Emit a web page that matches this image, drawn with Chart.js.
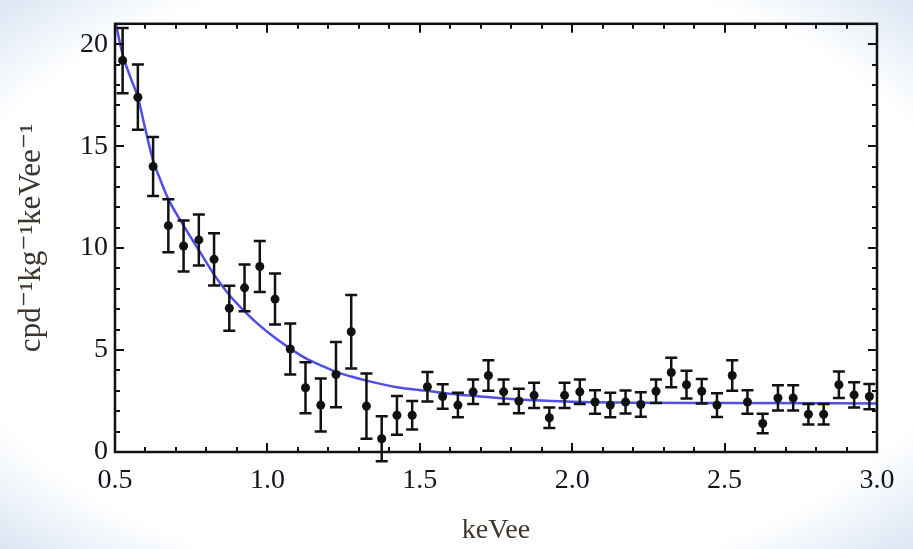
<!DOCTYPE html>
<html>
<head>
<meta charset="utf-8">
<script src="https://cdn.jsdelivr.net/npm/chart.js@4.4.0/dist/chart.umd.min.js"></script>
<style>
html, body { margin: 0; padding: 0; }
body {
  width: 913px; height: 549px; overflow: hidden;
  background: radial-gradient(ellipse at center, #ffffff 80%, #dae6f3 100%);
}
#wrap { position: absolute; left: 0; top: 0; width: 913px; height: 549px; }
</style>
</head>
<body>
<div id="wrap"><canvas id="myChart" width="913" height="549"></canvas></div>
<script>
//bin centres (keVee)
let energy = [0.525, 0.575, 0.625, 0.675, 0.725, 0.775, 0.825, 0.875, 0.925, 0.975,
  1.025, 1.075, 1.125, 1.175, 1.225, 1.275, 1.325, 1.375, 1.425, 1.475,
  1.525, 1.575, 1.625, 1.675, 1.725, 1.775, 1.825, 1.875, 1.925, 1.975,
  2.025, 2.075, 2.125, 2.175, 2.225, 2.275, 2.325, 2.375, 2.425, 2.475,
  2.525, 2.575, 2.625, 2.675, 2.725, 2.775, 2.825, 2.875, 2.925, 2.975];
//measured rate, cpd/kg/keVee
let rate = [19.2, 17.4, 14.0, 11.1, 10.1, 10.4, 9.45, 7.05, 8.05, 9.1,
  7.5, 5.05, 3.15, 2.3, 3.8, 5.9, 2.25, 0.65, 1.8, 1.8,
  3.2, 2.72, 2.3, 2.95, 3.75, 2.95, 2.5, 2.78, 1.68, 2.78,
  2.95, 2.45, 2.3, 2.45, 2.33, 2.98, 3.9, 3.3, 2.98, 2.3,
  3.75, 2.45, 1.4, 2.65, 2.65, 1.85, 1.85, 3.3, 2.8, 2.72];
//1 sigma errors
let rateErr = [1.6, 1.6, 1.45, 1.3, 1.25, 1.25, 1.28, 1.1, 1.15, 1.25,
  1.25, 1.25, 1.25, 1.3, 1.6, 1.8, 1.6, 1.1, 0.95, 0.7,
  0.72, 0.6, 0.6, 0.6, 0.75, 0.6, 0.6, 0.62, 0.5, 0.62,
  0.6, 0.58, 0.6, 0.56, 0.6, 0.58, 0.72, 0.68, 0.6, 0.58,
  0.75, 0.58, 0.48, 0.62, 0.62, 0.5, 0.5, 0.65, 0.62, 0.62];
//fit curve
let fitE = [0.5, 0.525, 0.55, 0.575, 0.6, 0.625, 0.65, 0.675, 0.725, 0.775, 0.825, 0.875, 0.925,
  0.975, 1.025, 1.075, 1.125, 1.175, 1.225, 1.275, 1.325, 1.425, 1.525, 1.6, 1.7, 1.8, 1.9,
  2.0, 2.2, 2.5, 3.0];
let fitRate = [21.2, 19.5, 18.4, 17.4, 15.8, 14.3, 13.3, 12.4, 11.1, 9.9, 8.7, 7.7, 6.9,
  6.2, 5.6, 5.07, 4.6, 4.25, 3.93, 3.7, 3.5, 3.18, 3.0, 2.86, 2.72, 2.6, 2.52,
  2.46, 2.42, 2.4, 2.38];
//tick labels
let xTicks = [0.5, 1.0, 1.5, 2.0, 2.5, 3.0];
let yTicks = [0, 5, 10, 15, 20];

let serif = "'Liberation Serif', 'DejaVu Serif', serif";

//error bars with caps
const errorBars = {
  id: "errorBars",
  afterDatasetsDraw(chart) {
    let ctx = chart.ctx, xs = chart.scales.x, ys = chart.scales.y;
    ctx.save();
    ctx.beginPath();
    ctx.rect(chart.chartArea.left, 0, chart.chartArea.width, chart.height);
    ctx.clip();
    ctx.strokeStyle = "#111";
    ctx.lineWidth = 2.5;
    for (let i = 0; i < energy.length; i++) {
      let px = xs.getPixelForValue(energy[i]);
      let top = ys.getPixelForValue(rate[i] + rateErr[i]);
      let bot = ys.getPixelForValue(rate[i] - rateErr[i]);
      ctx.beginPath();
      ctx.moveTo(px, top); ctx.lineTo(px, bot);
      ctx.moveTo(px - 6, top); ctx.lineTo(px + 6, top);
      ctx.moveTo(px - 6, bot); ctx.lineTo(px + 6, bot);
      ctx.stroke();
    }
    ctx.restore();
  }
};

//frame with inward ticks on all sides
const frame = {
  id: "frame",
  afterDraw(chart) {
    let ctx = chart.ctx, a = chart.chartArea, xs = chart.scales.x, ys = chart.scales.y;
    ctx.save();
    ctx.strokeStyle = "#111";
    ctx.lineWidth = 2.5;
    ctx.strokeRect(a.left, a.top, a.width, a.height);
    ctx.lineWidth = 2;
    ctx.beginPath();
    for (let k = 5; k <= 30; k++) {
      let v = k / 10;
      let px = Math.round(xs.getPixelForValue(v));
      let len = (k % 5 == 0) ? 9 : 5;
      ctx.moveTo(px, a.bottom); ctx.lineTo(px, a.bottom - len);
      ctx.moveTo(px, a.top); ctx.lineTo(px, a.top + len);
    }
    for (let v = 0; v <= 21; v++) {
      let py = Math.round(ys.getPixelForValue(v));
      let len = (v % 5 == 0) ? 9 : 5;
      ctx.moveTo(a.left, py); ctx.lineTo(a.left + len, py);
      ctx.moveTo(a.right, py); ctx.lineTo(a.right - len, py);
    }
    ctx.stroke();
    ctx.restore();
  }
};

let ctx = document.getElementById("myChart").getContext("2d");
let myChart = new Chart(ctx, {
  type: "scatter",
  data: {
    datasets: [
      {
        label: "data",
        data: energy.map((e, i) => ({ x: e, y: rate[i] })),
        pointRadius: 4.5,
        pointBackgroundColor: "#111",
        pointBorderWidth: 0,
        order: 1,
      },
      {
        type: "line",
        label: "fit",
        data: fitE.map((e, i) => ({ x: e, y: fitRate[i] })),
        borderColor: "rgba(35, 35, 225, 0.8)",
        borderWidth: 2.5,
        pointRadius: 0,
        cubicInterpolationMode: "monotone",
        fill: false,
        order: 2,
      },
    ],
  },
  options: {
    responsive: false,
    animation: false,
    layout: { padding: { left: 0, top: 8, right: 36, bottom: 0 } },
    plugins: { legend: { display: false }, tooltip: { enabled: false } },
    scales: {
      x: {
        type: "linear",
        min: 0.5,
        max: 3.0,
        afterBuildTicks: (s) => { s.ticks = xTicks.map((v) => ({ value: v })); },
        afterFit: (s) => { s.height = 97; },
        ticks: {
          font: { family: serif, size: 28 },
          color: "#14141f",
          padding: 12,
          maxRotation: 0,
          callback: (v) => v.toFixed(1),
        },
        grid: { display: false, drawTicks: false },
        border: { display: false },
        title: {
          display: true,
          text: "keVee",
          font: { family: serif, size: 28 },
          color: "#3e352f",
          padding: { top: 0, bottom: 2 },
        },
      },
      y: {
        min: 0,
        max: 21,
        afterBuildTicks: (s) => { s.ticks = yTicks.map((v) => ({ value: v })); },
        afterFit: (s) => { s.width = 115; },
        ticks: {
          font: { family: serif, size: 28 },
          color: "#14141f",
          padding: 7,
        },
        grid: { display: false, drawTicks: false },
        border: { display: false },
        title: {
          display: true,
          text: "cpd\u207B\u00B9kg\u207B\u00B9keVee\u207B\u00B9",
          font: { family: serif, size: 31 },
          color: "#3e352f",
          padding: { top: 13, bottom: 0 },
        },
      },
    },
  },
  plugins: [errorBars, frame],
});
</script>
</body>
</html>
